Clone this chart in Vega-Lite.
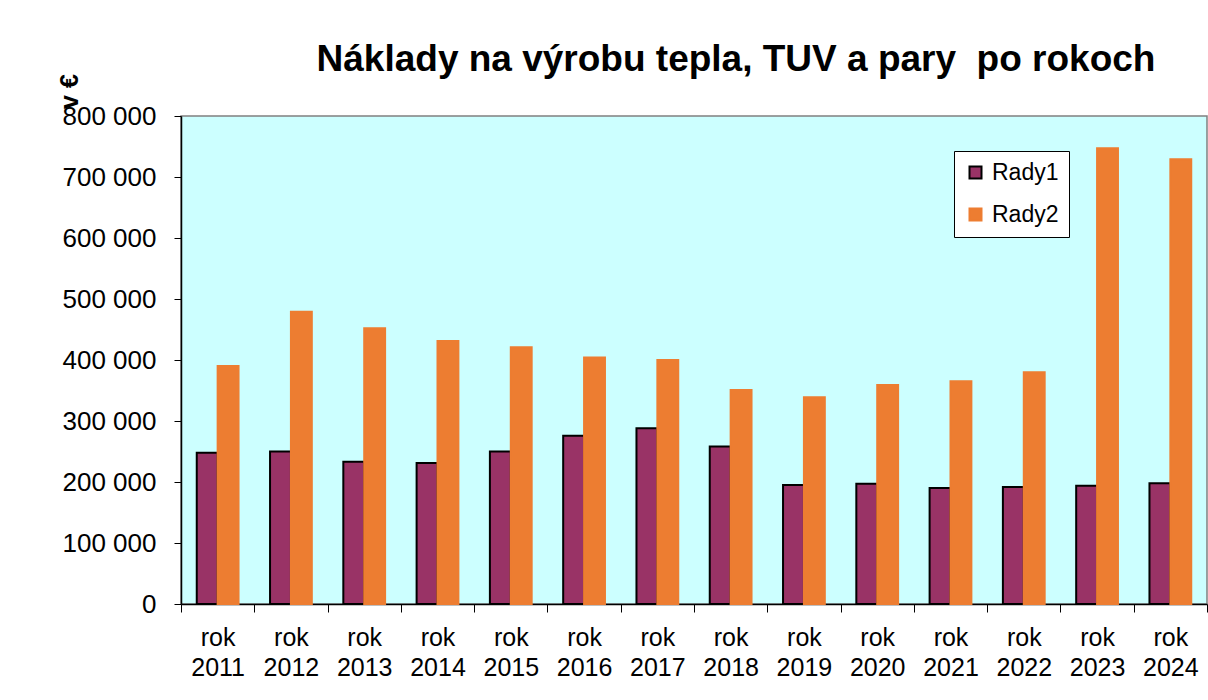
{
  "$schema": "https://vega.github.io/schema/vega-lite/v6.json",
  "width": 1026,
  "height": 488,
  "autosize": {"type": "none"},
  "padding": {"left": 181, "top": 116, "right": 1, "bottom": 96},
  "background": "white",
  "title": {
    "text": "Náklady na výrobu tepla, TUV a pary\u00a0 po rokoch",
    "font": "Liberation Sans",
    "fontSize": 37,
    "fontWeight": "bold",
    "color": "black",
    "anchor": "middle",
    "dx": 42,
    "baseline": "alphabetic",
    "offset": -34
  },
  "data": {
    "values": [
      {"year": "2011", "series": "Rady1", "value": 248000},
      {"year": "2011", "series": "Rady2", "value": 390000},
      {"year": "2012", "series": "Rady1", "value": 250000},
      {"year": "2012", "series": "Rady2", "value": 479000},
      {"year": "2013", "series": "Rady1", "value": 233000},
      {"year": "2013", "series": "Rady2", "value": 452000},
      {"year": "2014", "series": "Rady1", "value": 231000},
      {"year": "2014", "series": "Rady2", "value": 431000},
      {"year": "2015", "series": "Rady1", "value": 250000},
      {"year": "2015", "series": "Rady2", "value": 421000},
      {"year": "2016", "series": "Rady1", "value": 276000},
      {"year": "2016", "series": "Rady2", "value": 404000},
      {"year": "2017", "series": "Rady1", "value": 288000},
      {"year": "2017", "series": "Rady2", "value": 400000},
      {"year": "2018", "series": "Rady1", "value": 258000},
      {"year": "2018", "series": "Rady2", "value": 351000},
      {"year": "2019", "series": "Rady1", "value": 195000},
      {"year": "2019", "series": "Rady2", "value": 339000},
      {"year": "2020", "series": "Rady1", "value": 197000},
      {"year": "2020", "series": "Rady2", "value": 359000},
      {"year": "2021", "series": "Rady1", "value": 190000},
      {"year": "2021", "series": "Rady2", "value": 365000},
      {"year": "2022", "series": "Rady1", "value": 192000},
      {"year": "2022", "series": "Rady2", "value": 380000},
      {"year": "2023", "series": "Rady1", "value": 194000},
      {"year": "2023", "series": "Rady2", "value": 747000},
      {"year": "2024", "series": "Rady1", "value": 198000},
      {"year": "2024", "series": "Rady2", "value": 729000}
    ]
  },
  "mark": {"type": "bar", "strokeWidth": 2},
  "encoding": {
    "x": {
      "field": "year",
      "type": "nominal",
      "scale": {"paddingInner": 0, "paddingOuter": 0},
      "axis": {
        "title": null,
        "labelExpr": "datum.value ? ['rok', datum.value] : ''",
        "labelAngle": 0,
        "labelFont": "Liberation Sans",
        "labelFontSize": 25,
        "labelColor": "black",
        "labelLineHeight": 30,
        "labelPadding": 13,
        "tickBand": "extent",
        "tickSize": 8,
        "tickColor": "black",
        "domainColor": "black",
        "domainWidth": 1.5
      }
    },
    "xOffset": {
      "field": "series",
      "type": "nominal",
      "scale": {"paddingInner": 0, "paddingOuter": 0.754}
    },
    "y": {
      "field": "value",
      "type": "quantitative",
      "scale": {"domain": [0, 800000]},
      "axis": {
        "values": [0, 100000, 200000, 300000, 400000, 500000, 600000, 700000, 800000],
        "grid": false,
        "labelExpr": "replace(format(datum.value, ',d'), ',', ' ')",
        "labelFont": "Liberation Sans",
        "labelFontSize": 26,
        "labelColor": "black",
        "labelPadding": 18,
        "tickSize": 7,
        "tickColor": "black",
        "domainColor": "black",
        "domainWidth": 1.5,
        "title": "v €",
        "titleFont": "Liberation Sans",
        "titleFontSize": 25,
        "titleFontWeight": "bold",
        "titleColor": "black",
        "titleAngle": 270,
        "titleAlign": "center",
        "titleBaseline": "alphabetic",
        "titleX": -104,
        "titleY": -25
      }
    },
    "color": {
      "field": "series",
      "type": "nominal",
      "scale": {"domain": ["Rady1", "Rady2"], "range": ["#993366", "#ED7D31"]},
      "legend": {"title": null, "orient": "none", "legendX": 773, "legendY": 35}
    },
    "stroke": {
      "field": "series",
      "type": "nominal",
      "scale": {"domain": ["Rady1", "Rady2"], "range": ["#000000", "#ED7D31"]},
      "legend": {"title": null, "orient": "none", "legendX": 773, "legendY": 35}
    }
  },
  "config": {
    "view": {"fill": "#CCFFFF", "stroke": "#808080", "strokeWidth": 1.5},
    "legend": {
      "fillColor": "white",
      "strokeColor": "black",
      "padding": 10,
      "rowPadding": 18,
      "symbolType": "square",
      "symbolSize": 144,
      "symbolStrokeWidth": 2,
      "labelFont": "Liberation Sans",
      "labelFontSize": 23,
      "labelColor": "black",
      "labelOffset": 5
    }
  }
}
